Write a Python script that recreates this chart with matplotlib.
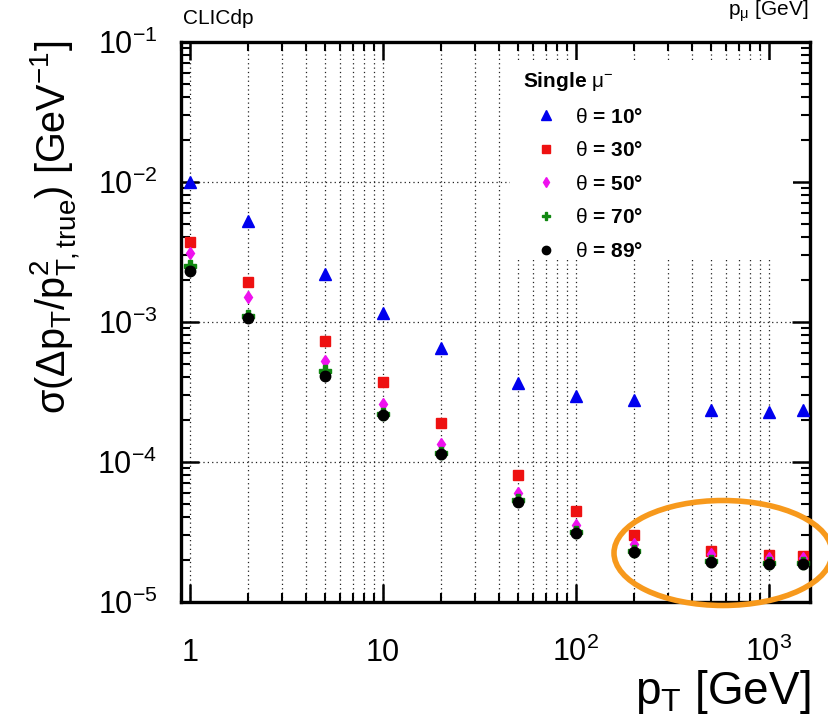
import matplotlib
matplotlib.use('Agg')
import matplotlib.pyplot as plt
from matplotlib.ticker import LogLocator, FixedLocator, FixedFormatter, NullFormatter, LogFormatterMathtext
from matplotlib.patches import Ellipse, Rectangle

plt.rcParams['font.family'] = ['Liberation Sans', 'DejaVu Sans']
plt.rcParams['mathtext.fontset'] = 'custom'
plt.rcParams['mathtext.rm'] = 'Liberation Sans'
plt.rcParams['mathtext.it'] = 'Liberation Serif'
plt.rcParams['mathtext.bf'] = 'Liberation Sans:bold'
plt.rcParams['mathtext.default'] = 'rm'

# ---------------- data ----------------
pt = [1, 2, 5, 10, 20, 50, 100, 200, 500, 1000, 1500]
res_10 = [1.0e-2, 5.26e-3, 2.18e-3, 1.15e-3, 6.45e-4, 3.63e-4, 2.94e-4, 2.76e-4, 2.34e-4, 2.25e-4, 2.34e-4]
res_30 = [3.73e-3, 1.91e-3, 7.28e-4, 3.69e-4, 1.88e-4, 8.1e-5, 4.47e-5, 2.99e-5, 2.30e-5, 2.14e-5, 2.12e-5]
res_50 = [3.08e-3, 1.49e-3, 5.24e-4, 2.58e-4, 1.33e-4, 6.0e-5, 3.53e-5, 2.57e-5, 2.19e-5, 2.05e-5, 2.04e-5]
res_70 = [2.48e-3, 1.10e-3, 4.42e-4, 2.18e-4, 1.16e-4, 5.3e-5, 3.15e-5, 2.30e-5, 1.96e-5, 1.89e-5, 1.89e-5]
res_89 = [2.32e-3, 1.06e-3, 4.10e-4, 2.14e-4, 1.13e-4, 5.13e-5, 3.08e-5, 2.25e-5, 1.92e-5, 1.86e-5, 1.86e-5]

series_labels = [r'$\theta$ = 10°', r'$\theta$ = 30°', r'$\theta$ = 50°', r'$\theta$ = 70°', r'$\theta$ = 89°']
legend_title = r'Single $\mu^{-}$'
xtick_vals = [1, 10, 100, 1000]
xtick_labels = ['1', '10', r'10$^{2}$', r'10$^{3}$']

# ---------------- styles ----------------
styles = [
    dict(marker='^', color='#0000ee', ms=8.5),
    dict(marker='s', color='#ee1111', ms=7),
    dict(marker='d', color='#ee11ee', ms=6.5),
    dict(marker='P', color='#118811', ms=8),
    dict(marker='o', color='black', ms=7.5),
]

fig = plt.figure(figsize=(8.29, 7.22), dpi=100)
ax = fig.add_axes([181/829, 1-601.7/722, (810-181)/829, 560/722])
ax.set_xscale('log')
ax.set_yscale('log')
ax.set_xlim(0.898, 1630)
ax.set_ylim(1e-5, 1e-1)

handles = []
for ys, st, lab in zip([res_10, res_30, res_50, res_70, res_89], styles, series_labels):
    h, = ax.plot(pt, ys, ls='none', marker=st['marker'], color=st['color'],
                 ms=st['ms'], mec=st['color'], zorder=5, label=lab)
    handles.append(h)

# ticks
ax.xaxis.set_major_locator(FixedLocator(xtick_vals))
ax.xaxis.set_major_formatter(FixedFormatter(xtick_labels))
ax.xaxis.set_minor_locator(LogLocator(base=10, subs=range(2, 10), numticks=20))
ax.xaxis.set_minor_formatter(NullFormatter())
ax.yaxis.set_major_locator(LogLocator(base=10, numticks=10))
ax.yaxis.set_major_formatter(LogFormatterMathtext())
ax.yaxis.set_minor_locator(LogLocator(base=10, subs=range(2, 10), numticks=20))
ax.yaxis.set_minor_formatter(NullFormatter())

ax.tick_params(which='both', direction='in', top=True, right=True, labelsize=22, color='black')
ax.tick_params(which='major', length=13, width=1.8)
ax.tick_params(which='minor', length=6.5, width=1.5)
ax.tick_params(axis='x', which='major', pad=43)
ax.tick_params(axis='y', which='major', pad=17)
for t in ax.xaxis.get_major_ticks():
    t.label1.set_verticalalignment('baseline')

for sp in ax.spines.values():
    sp.set_linewidth(2.4)

ax.grid(which='both', axis='x', ls=(0, (1, 2.5)), color='#222222', lw=0.9)
ax.grid(which='major', axis='y', ls=(0, (1, 2.5)), color='#222222', lw=0.9)

# legend background box
ax.add_patch(Rectangle((0.523, 0.616), 0.45, 0.351, transform=ax.transAxes,
                       facecolor='white', edgecolor='none', zorder=2))

leg = ax.legend(handles=handles, loc='upper left', bbox_to_anchor=(523/829, 1-70/722),
                bbox_transform=fig.transFigure, frameon=False, title=legend_title,
                prop={'weight': 'bold', 'size': 15}, title_fontproperties={'weight': 'bold', 'size': 15},
                handlelength=2.2, handletextpad=0.3, labelspacing=0.70, borderpad=0,
                borderaxespad=0, markerscale=0.8)
leg._legend_box.align = 'left'
leg.set_zorder(6)

# texts
fig.text(183/829, 1-18/722, 'CLICdp', fontsize=15, va='center', ha='left')
fig.text(808/829, 1-16/722, r'p$_{\mu}$ [GeV]', fontsize=15, va='baseline', ha='right')
fig.text(55/829, 1-40/722, r'$\sigma$($\Delta$p$_{T}$/p$^{2}_{T,true}$) [GeV$^{-1}$]',
         fontsize=28.5, rotation=90, ha='center', va='top')
fig.text(810/829, 1-704/722, r'p$_{T}$ [GeV]', fontsize=33, ha='right', va='baseline')

# highlight ellipse
ell = Ellipse((723/829, 1-553/722), 218/829, 105/722, transform=fig.transFigure,
              facecolor='none', edgecolor='#F7991C', lw=4, zorder=10, clip_on=False)
fig.patches.append(ell)

fig.savefig('out.png', dpi=100)
